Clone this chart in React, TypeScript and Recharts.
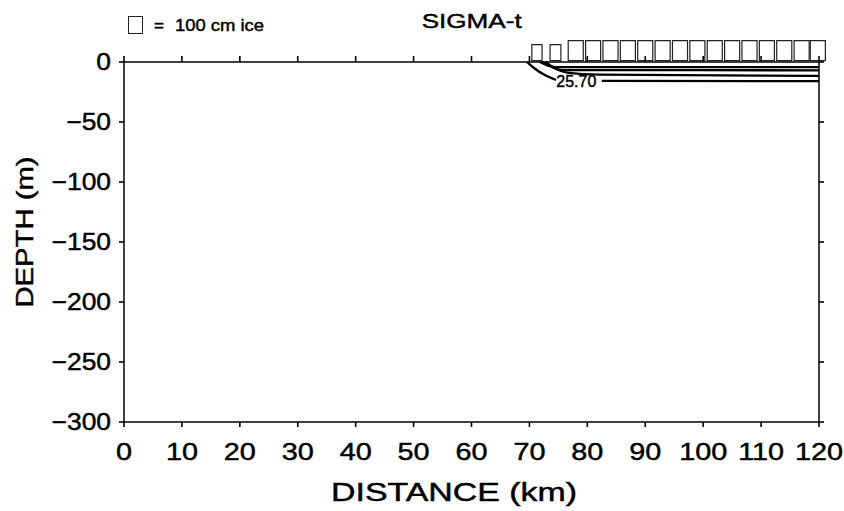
import { ComposedChart, Line, Scatter, XAxis, YAxis, ReferenceArea, ReferenceDot } from "recharts";

const FONT = "'Liberation Sans', Arial, Helvetica, sans-serif";

const distanceTicks = [0, 10, 20, 30, 40, 50, 60, 70, 80, 90, 100, 110, 120];
const depthTicks = [0, -50, -100, -150, -200, -250, -300];

// ice boxes above the section: station (km), thickness (cm), cover fraction
const iceX = [71.3, 74.5, 78, 81, 84, 87, 90, 93, 96, 99, 102, 105, 108, 111, 114, 117, 119.8];
const iceCm = [94, 94, 117, 117, 117, 117, 117, 117, 117, 117, 117, 117, 117, 117, 117, 117, 117];
const iceCover = [0.68, 0.72, 1, 1, 1, 1, 1, 1, 1, 1, 1, 1, 1, 1, 1, 1, 1];

// sigma-t contours (x km, depth m)
const contour1 = [
  { x: 71.8, d: 0 },
  { x: 73.2, d: -3 },
  { x: 74.6, d: -4.2 },
  { x: 120, d: -4.2 },
];
const contour2 = [
  { x: 72.3, d: 0 },
  { x: 73.8, d: -4 },
  { x: 75.6, d: -6.7 },
  { x: 120, d: -6.9 },
];
const contour3 = [
  { x: 72.8, d: 0 },
  { x: 74.3, d: -5 },
  { x: 76.5, d: -8.8 },
  { x: 82, d: -10.6 },
  { x: 120, d: -11.6 },
];
const contour4 = [
  { x: 69.6, d: 0 },
  { x: 70.8, d: -5 },
  { x: 72.5, d: -10.5 },
  { x: 74.6, d: -15 },
  { x: 78, d: null },
  { x: 82.5, d: -15.8 },
  { x: 120, d: -16 },
];
const contourLabel = { x: 78.1, d: -16.5, text: "25.70" };

const CM_TO_M = 0.1417; // box height: 100 cm of ice drawn as ~17 px
const BOX_KM = 2.6;

// tick marks on the top and bottom frame
const bottomTickMarks = distanceTicks.map((t) => ({ x: t, d: -300 }));
const topTickMarks = distanceTicks.map((t) => ({ x: t, d: 0 }));

const fmtDepth = (v: number) => (v < 0 ? `\u2212${Math.abs(v)}` : `${v}`);

const inkStyle = { stroke: "#000", strokeWidth: 0.45 };
const tickLineStyle = { stroke: "#000", strokeWidth: 1.6 };

const BottomTick = (props: any) => {
  const { x, y, payload } = props;
  return (
    <text
      x={x}
      y={y + 31}
      textAnchor="middle"
      fontFamily={FONT}
      fontSize={24}
      fill="#000"
      {...inkStyle}
      transform={`translate(${x} 0) scale(1.2 1) translate(${-x} 0)`}
    >
      {payload.value}
    </text>
  );
};

const LeftTick = (props: any) => {
  const { x, y, payload } = props;
  const ax = x - 6;
  return (
    <text
      x={ax}
      y={y + 8.5}
      textAnchor="end"
      fontFamily={FONT}
      fontSize={24}
      fill="#000"
      {...inkStyle}
      transform={`translate(${ax} 0) scale(1.1 1) translate(${-ax} 0)`}
    >
      {fmtDepth(payload.value)}
    </text>
  );
};

const NoLabel = () => <g />;

const DownMark = (p: any) => (
  <line x1={p.cx} x2={p.cx} y1={p.cy} y2={p.cy + 5} stroke="#000" strokeWidth={1.6} />
);
const UpMark = (p: any) => (
  <line x1={p.cx} x2={p.cx} y1={p.cy} y2={p.cy - 6} stroke="#000" strokeWidth={1.6} />
);

const lineProps = {
  dataKey: "d",
  type: "monotone" as const,
  stroke: "#000",
  strokeWidth: 2.3,
  dot: false,
  isAnimationActive: false,
  connectNulls: false,
};

export default function App() {
  return (
    <div style={{ position: "absolute", left: 0, top: 0, width: 844, height: 511, background: "#fff" }}>
      <ComposedChart width={844} height={511} margin={{ top: 52, right: 15, bottom: 39, left: 44 }}>
        <XAxis
          xAxisId="top"
          orientation="top"
          type="number"
          dataKey="x"
          domain={[0, 120]}
          ticks={distanceTicks}
          tick={<NoLabel />}
          tickLine={false}
          height={10}
          stroke="#000"
          strokeWidth={1.5}
        />
        <XAxis
          type="number"
          dataKey="x"
          domain={[0, 120]}
          ticks={distanceTicks}
          interval={0}
          tick={<BottomTick />}
          tickLine={false}
          height={50}
          tickSize={6}
          tickMargin={1}
          stroke="#000"
          strokeWidth={1.5}
          label={{
            content: () => (
              <text
                x={454}
                y={501}
                textAnchor="middle"
                fontFamily={FONT}
                fontSize={25}
                fill="#000"
                {...inkStyle}
                textLength={246}
                lengthAdjust="spacingAndGlyphs"
              >
                DISTANCE  (km)
              </text>
            ),
          }}
        />
        <YAxis
          type="number"
          dataKey="d"
          domain={[-300, 0]}
          ticks={depthTicks}
          interval={0}
          tick={<LeftTick />}
          tickLine={tickLineStyle}
          width={80}
          tickSize={5}
          tickMargin={2}
          stroke="#000"
          strokeWidth={1.5}
          label={{
            content: () => (
              <text
                x={0}
                y={0}
                transform="translate(33 232) rotate(-90)"
                textAnchor="middle"
                fontFamily={FONT}
                fontSize={24}
                fill="#000"
                {...inkStyle}
                textLength={151}
                lengthAdjust="spacingAndGlyphs"
              >
                DEPTH  (m)
              </text>
            ),
          }}
        />
        <YAxis
          yAxisId="right"
          orientation="right"
          type="number"
          dataKey="d"
          domain={[-300, 0]}
          ticks={depthTicks}
          interval={0}
          tick={<NoLabel />}
          tickLine={tickLineStyle}
          width={10}
          tickSize={5}
          stroke="#000"
          strokeWidth={1.5}
        />
        {iceX.map((cx, i) => (
          <ReferenceArea
            key={`ice-${i}`}
            x1={cx - (BOX_KM * iceCover[i]) / 2}
            x2={cx + (BOX_KM * iceCover[i]) / 2}
            y1={1.2}
            y2={1.2 + iceCm[i] * CM_TO_M}
            ifOverflow="visible"
            fill="#fff"
            fillOpacity={1}
            stroke="#222"
            strokeWidth={1.2}
          />
        ))}
        <Scatter data={bottomTickMarks} dataKey="d" shape={<DownMark />} isAnimationActive={false} />
        <Scatter
          data={topTickMarks}
          dataKey="d"
          shape={<UpMark />}
          isAnimationActive={false}
          xAxisId="top"
          yAxisId="right"
        />
        <Line data={contour1} {...lineProps} />
        <Line data={contour2} {...lineProps} />
        <Line data={contour3} {...lineProps} xAxisId="top" yAxisId="right" />
        <Line data={contour4} {...lineProps} xAxisId="top" yAxisId="right" />
        <ReferenceDot
          x={contourLabel.x}
          y={contourLabel.d}
          r={0}
          stroke="none"
          fill="none"
          ifOverflow="visible"
          label={{
            content: (p: any) => {
              const vb = p.viewBox || {};
              const cx = (vb.x ?? 0) + (vb.width ?? 0) / 2;
              const cy = (vb.y ?? 0) + (vb.height ?? 0) / 2;
              return (
                <text
                  x={cx}
                  y={cy + 5.5}
                  textAnchor="middle"
                  fontFamily={FONT}
                  fontSize={16}
                  fill="#000"
                  {...inkStyle}
                  textLength={40}
                  lengthAdjust="spacingAndGlyphs"
                >
                  {contourLabel.text}
                </text>
              );
            },
          }}
        />
      </ComposedChart>
      <div
        style={{
          position: "absolute",
          left: 0,
          top: 0,
          width: 844,
          height: 40,
          pointerEvents: "none",
        }}
      >
        <div
          style={{
            position: "absolute",
            left: 128,
            top: 16,
            width: 13,
            height: 16,
            border: "1px solid #222",
          }}
        />
        <svg width={844} height={40} style={{ position: "absolute", left: 0, top: 0 }}>
          <text x={154} y={31} fontFamily={FONT} fontSize={17} fill="#000" {...inkStyle}>
            =
          </text>
          <text
            x={175}
            y={31}
            fontFamily={FONT}
            fontSize={17}
            fill="#000"
            {...inkStyle}
            textLength={89}
            lengthAdjust="spacingAndGlyphs"
          >
            100 cm ice
          </text>
          <text
            x={471.7}
            y={28}
            textAnchor="middle"
            fontFamily={FONT}
            fontSize={21}
            fill="#000"
            {...inkStyle}
            textLength={100}
            lengthAdjust="spacingAndGlyphs"
          >
            SIGMA-t
          </text>
        </svg>
      </div>
    </div>
  );
}
